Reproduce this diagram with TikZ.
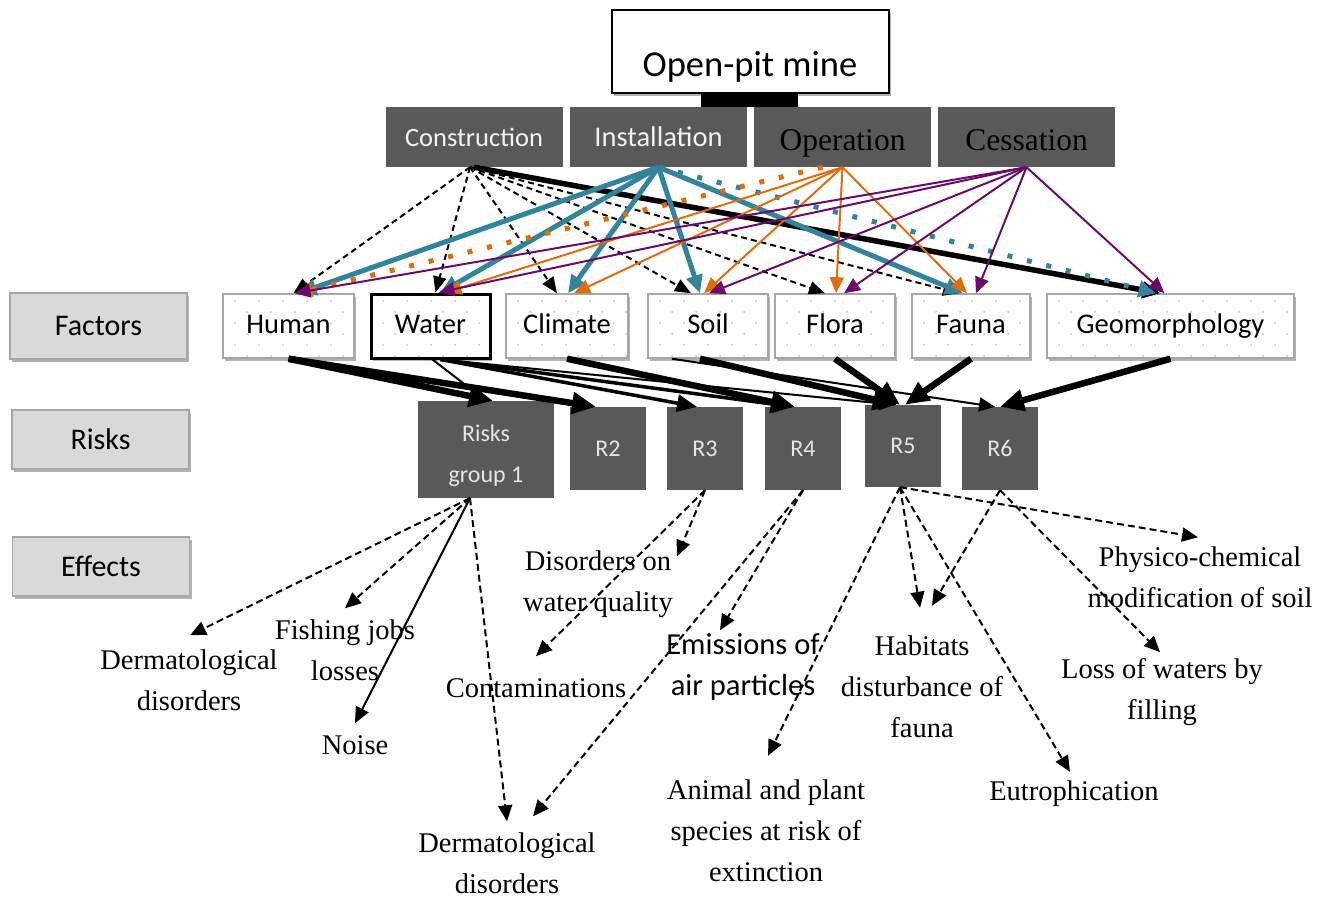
\documentclass[tikz,border=0pt]{standalone}
\usepackage{fontspec}
\setmainfont{Liberation Serif}
\newfontfamily\calib{Carlito}
\usetikzlibrary{arrows.meta,shadows,calc}
\definecolor{dgray}{HTML}{595959}
\definecolor{lgray}{HTML}{D9D9D9}
\definecolor{bgray}{HTML}{A6A6A6}
\definecolor{teal2}{HTML}{31849B}
\definecolor{orng}{HTML}{E36C0A}
\definecolor{purp}{HTML}{6C0A6C}
\definecolor{dotc}{HTML}{C4C4C4}
\newcommand\mydotgrid{%
  \foreach \j in {0,...,5}{%
    \foreach \i in {0,...,10}{%
      \pgfmathsetmacro\xx{\i*24+mod(\j,2)*12+12}%
      \pgfmathsetmacro\yy{\j*11+7}%
      \fill[dotc] ([xshift=\xx pt,yshift=-\yy pt]path picture bounding box.north west) circle[radius=1pt];
    }}}
\begin{document}
\begin{tikzpicture}[x=1pt,y=-1pt,
  shd/.style={drop shadow={shadow xshift=2pt,shadow yshift=-3pt,opacity=0.3,fill=black}},
  phasebox/.style={fill=dgray,minimum width=177pt,minimum height=60pt,inner sep=0pt},
  factorbox/.style={draw=bgray,line width=1.5pt,fill=white,minimum height=64pt,inner sep=0pt,shd,text height=20pt,text depth=6pt,font=\calib\fontsize{28.5}{34}\selectfont,path picture={\mydotgrid}},
  sidebox/.style={draw=bgray,line width=1.5pt,fill=lgray,minimum width=177pt,inner sep=0pt,shd,font=\calib\fontsize{30}{36}\selectfont},
  riskbox/.style={fill=dgray,inner sep=0pt,text=white!90!black,font=\calib\fontsize{24}{41}\selectfont,align=center},
  efftext/.style={inner sep=0pt,align=center,font=\fontsize{28.5}{41}\selectfont},
  blkdash/.style={draw=black,line width=2pt,dash pattern=on 6pt off 4pt,-{Triangle[length=16pt,width=13pt]}},
  blkthick/.style={draw=black,line width=5.5pt,-{Triangle[length=18pt,width=16pt]}},
  tealthick/.style={draw=teal2,line width=5pt,-{Triangle[length=18pt,width=16pt]}},
  tealdot/.style={draw=teal2,line width=5pt,dash pattern=on 5pt off 15pt,-{Triangle[length=18pt,width=16pt]}},
  orgline/.style={draw=orng,line width=2pt,-{Triangle[length=16pt,width=14pt]}},
  orgdot/.style={draw=orng,line width=5pt,dash pattern=on 5pt off 15pt,-{Triangle[length=16pt,width=14pt]}},
  purline/.style={draw=purp,line width=2pt,-{Triangle[length=16pt,width=14pt]}},
  rthick/.style={draw=black,line width=6.5pt,-{Triangle[length=24pt,width=21pt]}},
  rmed/.style={draw=black,line width=3.5pt,-{Triangle[length=20pt,width=17pt]}},
  rthin/.style={draw=black,line width=2pt,-{Triangle[length=16pt,width=14pt]}},
  effdash/.style={draw=black,line width=2pt,dash pattern=on 7pt off 4pt,-{Triangle[length=16pt,width=14pt]}},
  effsolid/.style={draw=black,line width=2pt,-{Triangle[length=16pt,width=14pt]}}
]
\useasboundingbox (0,0) rectangle (1333,897);

% top
\node[fill=black,minimum width=97pt,minimum height=14pt,inner sep=0pt] (bar) at (749.5,100) {};
\node[draw=black,line width=2pt,fill=white,minimum width=277pt,minimum height=83pt,inner sep=0pt,shd] (mine) at (750.5,51.5) {};
\node[inner sep=0pt,font=\calib\fontsize{36.5}{40}\selectfont] (minetxt) at (750,67) {Open-pit mine};

% phases
\node[phasebox,text=white!95!black,font=\calib\fontsize{26.5}{30}\selectfont] (con) at (474,137) {Construction};
\node[phasebox,text=white!95!black,font=\calib\fontsize{28.5}{32}\selectfont] (ins) at (658.5,137) {Installation};
\node[phasebox,text=black,font=\fontsize{31.5}{36}\selectfont,text height=30pt,text depth=4pt] (ope) at (842.5,137) {Operation};
\node[phasebox,text=black,font=\fontsize{31.5}{36}\selectfont,text height=30pt,text depth=4pt] (ces) at (1026.5,137) {Cessation};

% side labels
\node[sidebox,minimum height=66pt] (lfac) at (98.5,326) {Factors};
\node[sidebox,minimum height=59pt] (lris) at (100.5,439.5) {Risks};
\node[sidebox,minimum height=59pt] (leff) at (101,566.5) {Effects};

% factors
\node[factorbox,minimum width=131pt] (hum) at (288.5,326) {Human};
\node[factorbox,minimum width=119pt,draw=black,line width=3pt] (wat) at (430.5,326) {Water};
\node[factorbox,minimum width=122pt] (cli) at (567,326) {Climate};
\node[factorbox,minimum width=120pt] (soi) at (708,326) {Soil};
\node[factorbox,minimum width=120pt] (flo) at (835,326) {Flora};
\node[factorbox,minimum width=118pt] (fau) at (971,326) {Fauna};
\node[factorbox,minimum width=247pt] (geo) at (1170.5,326) {Geomorphology};

% risks
\node[riskbox,minimum width=136pt,minimum height=97pt] (rg1) at (486,449.5) {\rule{0pt}{30pt}Risks\\group 1};
\node[riskbox,minimum width=76pt,minimum height=83pt] (r2) at (608,448.5) {R2};
\node[riskbox,minimum width=76pt,minimum height=83pt] (r3) at (705,448.5) {R3};
\node[riskbox,minimum width=76pt,minimum height=83pt] (r4) at (803,448.5) {R4};
\node[riskbox,minimum width=76pt,minimum height=82pt] (r5) at (903,446) {R5};
\node[riskbox,minimum width=76pt,minimum height=83pt] (r6) at (1000,448.5) {R6};

% effects
\node[efftext] (derma) at (189,680) {Dermatological\\disorders};
\node[efftext] (fish) at (345,650) {Fishing jobs\\losses};
\node[efftext] (noise) at (355,745) {Noise};
\node[efftext] (diso) at (598,584) {Disorders on\\water quality};
\node[efftext] (cont) at (536,688) {Contaminations};
\node[efftext,font=\calib\fontsize{30.5}{41}\selectfont] (emis) at (743,667) {Emissions of\\air particles};
\node[efftext] (dermb) at (507,863) {Dermatological\\disorders};
\node[efftext] (anim) at (766,831) {Animal and plant\\species at risk of\\extinction};
\node[efftext] (habi) at (922,687) {Habitats\\disturbance of\\fauna};
\node[efftext] (eutr) at (1074,794) {Eutrophication};
\node[efftext] (phys) at (1200,577) {Physico-chemical\\modification of soil};
\node[efftext] (loss) at (1162,692) {Loss of waters by\\filling};

% phase -> factor : construction
\draw[blkdash] ([xshift=-4pt]con.south) -- ([xshift=5pt]hum.north);
\draw[blkdash] ([xshift=-4pt]con.south) -- ([xshift=5pt]wat.north);
\draw[blkdash] ([xshift=-4pt]con.south) -- ([xshift=-10pt]cli.north);
\draw[blkdash] ([xshift=-4pt]con.south) -- ([xshift=-17pt]soi.north);
\draw[blkdash] ([xshift=-4pt]con.south) -- ([xshift=-10pt]flo.north);
\draw[blkdash] ([xshift=-4pt]con.south) -- ([xshift=-12pt]fau.north);
\draw[blkthick] (con.south) -- ([xshift=-10pt]geo.north);
% installation
\draw[tealthick] (ins.south) -- ([xshift=10pt]hum.north);
\draw[tealthick] (ins.south) -- ([xshift=10pt]wat.north);
\draw[tealthick] (ins.south) -- ([xshift=1pt]cli.north);
\draw[tealthick] (ins.south) -- ([xshift=-8pt]soi.north);
\draw[tealthick] (ins.south) -- ([xshift=-8pt]fau.north);
\draw[tealdot] (ins.south) -- ([xshift=-14pt]geo.north);
% operation
\draw[orgdot] ([xshift=-20pt]ope.south) -- ([xshift=8pt]hum.north);
\draw[orgline] (ope.south) -- ([xshift=15pt]wat.north);
\draw[orgline] (ope.south) -- ([xshift=7pt]cli.north);
\draw[orgline] (ope.south) -- ([xshift=-4pt]soi.north);
\draw[orgline] (ope.south) -- ([xshift=1pt]flo.north);
\draw[orgline] (ope.south) -- ([xshift=-4pt]fau.north);
% cessation
\draw[purline] (ces.south) -- ([xshift=6pt]hum.north);
\draw[purline] (ces.south) -- ([xshift=8pt]wat.north);
\draw[purline] (ces.south) -- ([xshift=1pt]soi.north);
\draw[purline] (ces.south) -- ([xshift=9pt]flo.north);
\draw[purline] (ces.south) -- ([xshift=5pt]fau.north);
\draw[purline] (ces.south) -- ([xshift=-6pt]geo.north);

% factor -> risk
\draw[rthick] (hum.south) -- ([xshift=7pt]rg1.north);
\draw[rthick] (hum.south) -- ([xshift=-12pt]r2.north);
\draw[rthin] ([xshift=2pt]wat.south) -- (rg1.north);
\draw[rmed] ([xshift=10pt]wat.south) -- ([xshift=-8pt]r3.north);
\draw[rmed] ([xshift=10pt]wat.south) -- ([xshift=-10pt]r4.north);
\draw[rthin] ([xshift=10pt]wat.south) -- ([xshift=-8pt]r5.north);
\draw[rthick] (cli.south) -- ([xshift=-8pt]r4.north);
\draw[rthick] ([xshift=-8pt]soi.south) -- ([xshift=-6pt]r5.north);
\draw[rthin] ([xshift=-36pt]soi.south) -- ([xshift=-5pt]r6.north);
\draw[rthick] (flo.south) -- ([xshift=-3pt]r5.north);
\draw[rthick] (fau.south) -- ([xshift=2pt]r5.north);
\draw[rthick] (geo.south) -- (r6.north);

% risk -> effects
\draw[effdash] ([xshift=-16pt]rg1.south) -- ([xshift=1pt,yshift=14pt]derma.north);
\draw[effdash] ([xshift=-16pt]rg1.south) -- ([yshift=11pt]fish.north);
\draw[effsolid] ([xshift=-16pt]rg1.south) -- ([yshift=12pt]noise.north);
\draw[effdash] ([xshift=-16pt]rg1.south) -- ([yshift=11pt]dermb.north);
\draw[effdash] (r3.south) -- ([xshift=79pt,yshift=-6pt]diso.north);
\draw[effdash] (r3.south) -- ([yshift=22pt]cont.north);
\draw[effdash] (r4.south) -- ([xshift=-23pt,yshift=3pt]emis.north);
\draw[effdash] (r4.south) -- ([xshift=26pt,yshift=16pt]dermb.north);
\draw[effdash] ([xshift=-3pt]r5.south) -- ([xshift=2pt,yshift=24pt]anim.north);
\draw[effdash] ([xshift=-3pt]r5.south) -- ([xshift=-2pt,yshift=28pt]habi.north);
\draw[effdash] ([xshift=-3pt]r5.south) -- ([xshift=-4pt,yshift=9pt]eutr.north);
\draw[effdash] ([xshift=-3pt]r5.south) -- ([xshift=-2pt,yshift=9pt]phys.north);
\draw[effdash] (r6.south) -- ([xshift=10pt,yshift=30pt]habi.north);
\draw[effdash] (r6.south) -- ([xshift=-2pt,yshift=6pt]loss.north);
\end{tikzpicture}
\end{document}
